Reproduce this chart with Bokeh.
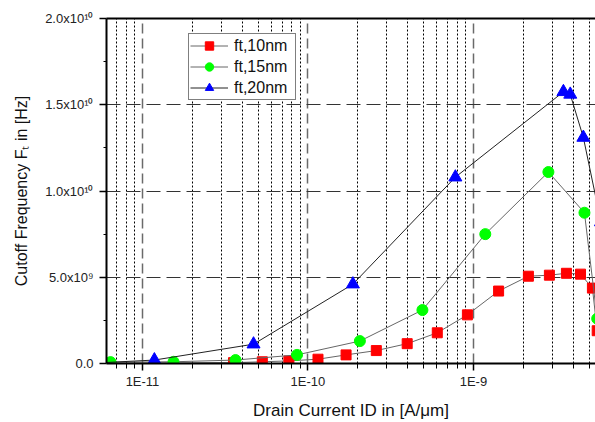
from bokeh.plotting import figure
from bokeh.models import FixedTicker, LogAxis, Legend, LegendItem
from bokeh.embed import file_html
from bokeh.resources import INLINE

# ---- data ----
x_10nm = [5.0e-12, 3.55e-11, 5.3e-11, 7.67e-11, 1.15e-10, 1.7e-10, 2.59e-10, 3.98e-10,
          6.05e-10, 9.2e-10, 1.42e-9, 2.15e-9, 2.88e-9, 3.65e-9, 4.44e-9, 5.24e-9, 5.6e-9, 5.9e-9]
y_10nm = [0.01e9, 0.05e9, 0.1e9, 0.15e9, 0.25e9, 0.5e9, 0.75e9, 1.15e9,
          1.78e9, 2.82e9, 4.2e9, 5.06e9, 5.12e9, 5.23e9, 5.18e9, 4.37e9, 1.9e9, 0.05e9]

x_15nm = [6.41e-12, 1.54e-11, 3.65e-11, 8.59e-11, 2.06e-10, 4.92e-10, 1.18e-9, 2.84e-9,
          4.69e-9, 5.6e-9, 5.9e-9]
y_15nm = [0.08e9, 0.1e9, 0.2e9, 0.5e9, 1.3e9, 3.1e9, 7.5e9, 1.11e10,
          8.74e9, 2.6e9, 0.05e9]

x_20nm = [5.0e-12, 1.18e-11, 4.69e-11, 1.87e-10, 7.78e-10, 3.5e-9, 3.85e-9, 4.62e-9, 5.9e-9, 6.2e-9]
y_20nm = [0.02e9, 0.2e9, 1.12e9, 4.6e9, 1.08e10, 1.575e10, 1.56e10, 1.31e10, 8.2e9, 0.05e9]

series_labels = ["ft,10nm", "ft,15nm", "ft,20nm"]

x_major_ticks = [1e-11, 1e-10, 1e-9]
x_tick_labels = ["1E-11", "1E-10", "1E-9"]
x_minor_ticks = [m * 10.0 ** e for e in (-12, -11, -10, -9) for m in range(2, 10)]

y_major_ticks = [0, 5e9, 1e10, 1.5e10, 2e10]
y_tick_labels = ["0.0", "5.0x10\u2079", "1.0x10\u00b9\u2070", "1.5x10\u00b9\u2070", "2.0x10\u00b9\u2070"]
y_minor_ticks = [2.5e9, 7.5e9, 1.25e10, 1.75e10]

FONT = "Liberation Sans"

p = figure(width=595, height=422, x_axis_type="log",
           x_range=(6.06e-12, 5.47e-9), y_range=(0, 2e10),
           output_backend="svg", toolbar_location=None,
           min_border_left=106, min_border_right=0, min_border_top=18, min_border_bottom=56)
p.outline_line_color = None
p.background_fill_color = "white"
p.border_fill_color = "white"

# axes
p.xaxis.ticker = FixedTicker(ticks=x_major_ticks, minor_ticks=x_minor_ticks)
p.xaxis.major_label_overrides = {t: l for t, l in zip(x_major_ticks, x_tick_labels)}
p.yaxis.ticker = FixedTicker(ticks=y_major_ticks, minor_ticks=y_minor_ticks)
p.yaxis.major_label_overrides = {t: l for t, l in zip(y_major_ticks, y_tick_labels)}

for ax in (p.xaxis[0], p.yaxis[0]):
    ax.axis_line_width = 2
    ax.axis_line_color = "black"
    ax.major_tick_line_color = "black"
    ax.major_tick_line_width = 1.5
    ax.minor_tick_line_color = "black"
    ax.minor_tick_line_width = 1
    ax.major_tick_in = 0
    ax.minor_tick_in = 0
    ax.major_label_text_font = FONT
    ax.major_label_text_font_size = "13px"
    ax.major_label_text_color = "#222222"
    ax.axis_label_text_font = FONT
    ax.axis_label_text_font_style = "normal"
    ax.axis_label_text_color = "#111111"

p.xaxis.axis_label = "Drain Current ID in [A/\u03bcm]"
p.xaxis.axis_label_text_font_size = "17px"
p.xaxis.major_tick_out = 7
p.xaxis.minor_tick_out = 5
p.xaxis.major_label_standoff = 3
p.xaxis.axis_label_standoff = 9

p.yaxis.axis_label = "Cutoff Frequency F\u209c in [Hz]"
p.yaxis.axis_label_text_font_size = "16px"
p.yaxis.major_tick_out = 7
p.yaxis.minor_tick_out = 3
p.yaxis.major_label_standoff = 6
p.yaxis.axis_label_standoff = 12

top = LogAxis(ticker=FixedTicker(ticks=[]), axis_line_width=2, axis_line_color="black",
              major_tick_line_color=None, minor_tick_line_color=None)
p.add_layout(top, "above")

# grid
p.xgrid.grid_line_color = "#6a6a6a"
p.xgrid.grid_line_dash = "10 5"
p.xgrid.grid_line_width = 1.5
p.xgrid.minor_grid_line_color = "black"
p.xgrid.minor_grid_line_dash = "2 2"
p.xgrid.minor_grid_line_width = 1
p.ygrid.grid_line_color = "#333333"
p.ygrid.grid_line_dash = "14 6"
p.ygrid.grid_line_width = 1.2

# series
l1 = p.line(x_10nm, y_10nm, line_color="#666666", line_width=1)
m1 = p.scatter(x_10nm, y_10nm, marker="square", size=10, fill_color="#ff0000", line_color="#ff0000")
l2 = p.line(x_15nm, y_15nm, line_color="#666666", line_width=1)
m2 = p.scatter(x_15nm, y_15nm, marker="circle", size=11, fill_color="#00ff00", line_color="#00ff00")
l3 = p.line(x_20nm, y_20nm, line_color="#222222", line_width=1)
m3 = p.scatter(x_20nm, y_20nm, marker="triangle", size=13, fill_color="#0000ff", line_color="#0000ff")

legend = Legend(items=[LegendItem(label=series_labels[0], renderers=[l1, m1]),
                       LegendItem(label=series_labels[1], renderers=[l2, m2]),
                       LegendItem(label=series_labels[2], renderers=[l3, m3])],
                location=(82, 263), orientation="vertical",
                border_line_color="black", border_line_width=1,
                background_fill_color="white", background_fill_alpha=1.0,
                padding=1, margin=0, spacing=0,
                glyph_width=38, glyph_height=21, label_height=21, label_width=60, label_standoff=6,
                label_text_font=FONT, label_text_font_size="16px", label_text_color="#111111")
p.add_layout(legend)

open("out.html", "w").write(file_html(p, INLINE))
